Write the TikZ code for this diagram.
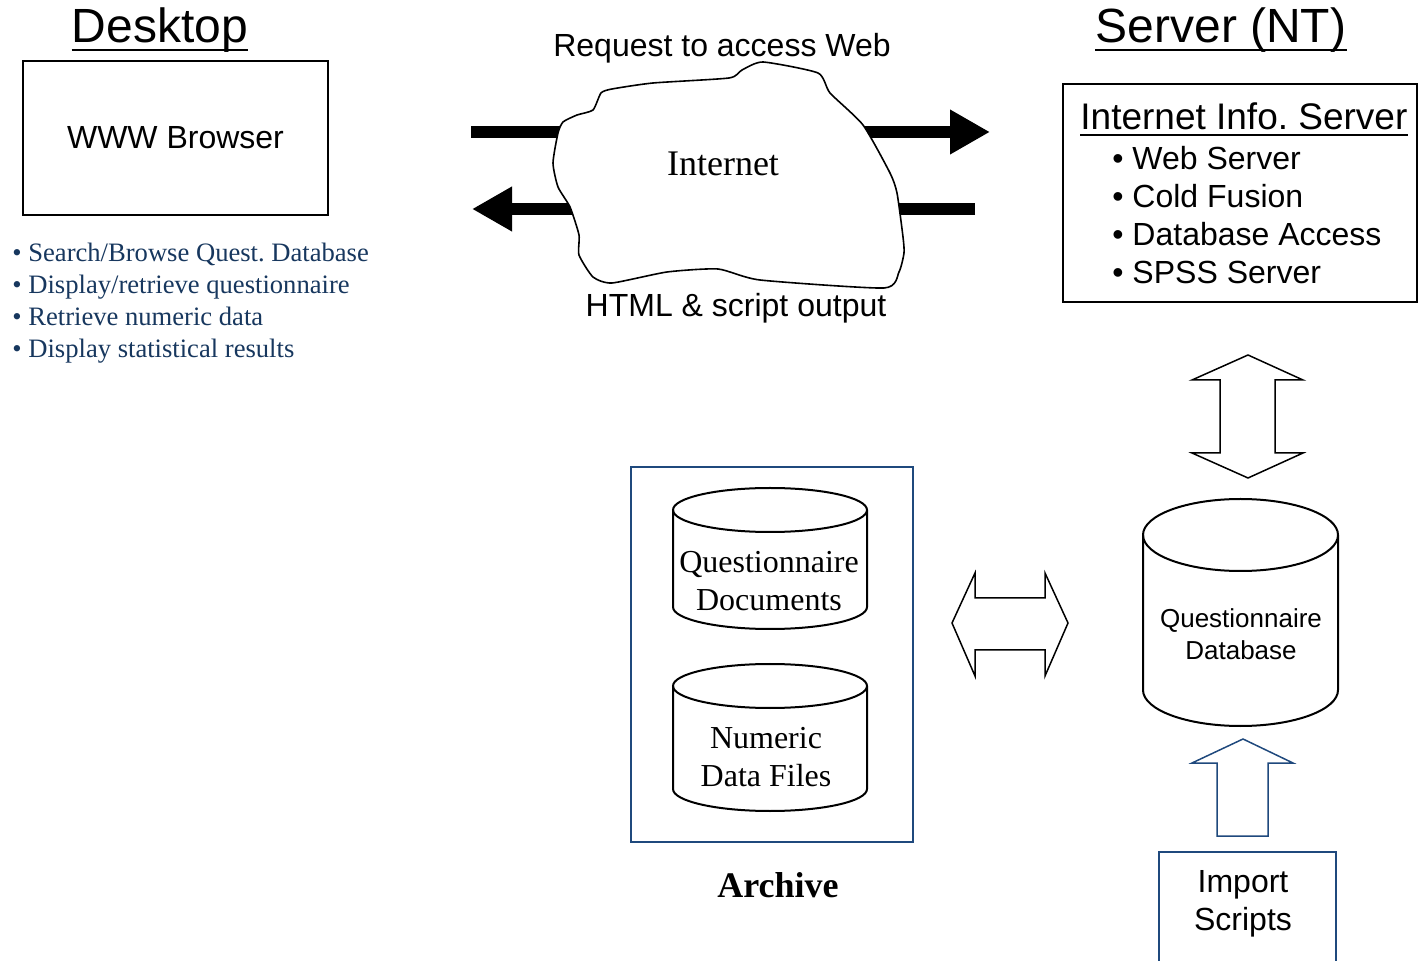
\documentclass[tikz,border=0pt]{standalone}
\usepackage{fontspec}
\setmainfont{Liberation Serif}
\setsansfont{Liberation Sans}
\usepackage{xcolor}
\usepackage{tikz}
\usetikzlibrary{arrows.meta}
\frenchspacing

\definecolor{navy}{RGB}{23,55,94}
\definecolor{boxblue}{RGB}{31,73,125}

% drum: centre x, top y, bottom y, x radius, y radius
\newcommand{\dbdrum}[5]{%
  \draw[line width=1pt, fill=white] (#1-#4,#2) -- (#1-#4,#3)
    arc[start angle=180, end angle=0, x radius=#4, y radius=#5] -- (#1+#4,#2);
  \draw[line width=1pt] (#1,#2) ellipse[x radius=#4, y radius=#5];
}

\begin{document}
\begin{tikzpicture}[
  x=0.5pt, y=-0.5pt,
  sans/.style={inner sep=0pt, anchor=base, align=center, font=\sffamily\fontsize{16}{19}\selectfont},
  serif/.style={inner sep=0pt, anchor=base, align=center, font=\rmfamily\fontsize{16}{19}\selectfont},
  title/.style={inner sep=0pt, anchor=base, font=\sffamily\fontsize{24}{28}\selectfont},
  blk/.style={draw, fill=white, line width=0.75pt},
  fat/.style={line width=6pt, -{Triangle[length=20pt,width=21pt]}},
]
\useasboundingbox (0,0) rectangle (1418,961);

%--- DESKTOP ---
\node[title] (desk) at (160,43) {Desktop};
\draw[line width=1.25pt] ([yshift=-3.5pt]desk.base west) -- ([yshift=-3.5pt]desk.base east);
\node[draw, line width=1.2pt, minimum width=152.5pt, minimum height=77pt, font=\sffamily\fontsize{16}{19}\selectfont]
  (browser) at (175.5,138) {WWW Browser};
% multi-line nodes: base = last line
\node[inner sep=0pt, anchor=base west, align=left, text=navy, font=\rmfamily\fontsize{13.3}{16}\selectfont]
  (tasks) at (12,358)
  {• Search/Browse Quest. Database\\• Display/retrieve questionnaire\\• Retrieve numeric data\\• Display statistical results};

%--- INTERNET ---
\coordinate (reqA) at (471,132);
\coordinate (reqB) at (990,132);
\coordinate (respA) at (975,209);
\coordinate (respB) at (472,209);
\draw[fat] (reqA) -- (reqB);
\draw[fat] (respA) -- (respB);
\draw[line width=0.8pt, fill=white] plot[smooth cycle, tension=0.35] coordinates {
  (763,62) (818,73) (830,93) (863,125) (890,173) (897,193) (903,237) (904,253)
  (899,272) (884,288) (760,280) (718,269) (667,272) (612,283) (593,277) (579,255)
  (579,235) (570,207) (558,187) (553,163) (558,133) (563,122) (577,115) (593,110)
  (601,93) (612,89) (653,83) (729,78) (742,70)};
\node[inner sep=0pt, anchor=base, font=\rmfamily\fontsize{18}{22}\selectfont] (inet) at (723,176) {Internet};
\node[sans] (req) at (722,57) {Request to access Web};
\node[sans] (resp) at (736,317) {HTML \& script output};

%--- SERVER ---
\node[title] (srv) at (1221,43) {Server (NT)};
\draw[line width=1.25pt] ([yshift=-3.5pt]srv.base west) -- ([yshift=-3.5pt]srv.base east);
\node[draw, line width=1pt, minimum width=177pt, minimum height=109pt] (srvbox) at (1240,193) {};
\node[inner sep=0pt, anchor=base west, font=\sffamily\fontsize{18.5}{22}\selectfont] (iis) at (1080,130) {Internet Info. Server};
\draw[line width=1pt] ([yshift=-2.5pt]iis.base west) -- ([yshift=-2.5pt]iis.base east);
\node[inner sep=0pt, anchor=base west, align=left, font=\sffamily\fontsize{16}{19}\selectfont]
  (svcs) at (1112,284) {• Web Server\\• Cold Fusion\\• Database Access\\• SPSS Server};

%--- DATABASE ---
\draw[blk] (1248,355) -- (1303,380) -- (1275,380) -- (1275,453) -- (1303,453) -- (1248,478)
  -- (1192,453) -- (1220,453) -- (1220,380) -- (1192,380) -- cycle;
\dbdrum{1240.5}{535}{690}{97.5}{36}
\node[inner sep=0pt, anchor=base, align=center, font=\sffamily\fontsize{13}{16}\selectfont]
  (qdb) at (1241,660) {Questionnaire\\Database};

%--- ARCHIVE ---
\node[draw=boxblue, line width=0.8pt, minimum width=141pt, minimum height=187.5pt] (archbox) at (772,654.5) {};
\dbdrum{770}{510}{607}{97}{22}
\dbdrum{770}{686}{789}{97}{22}
\node[serif] (qdocs) at (769,611) {Questionnaire\\Documents};
\node[serif] (numdata) at (766,786) {Numeric\\Data Files};
\node[inner sep=0pt, anchor=base, font=\rmfamily\bfseries\fontsize{18}{22}\selectfont] (arch) at (778,897) {Archive};
\draw[blk] (952,623) -- (975,573) -- (975,598) -- (1045,598) -- (1045,573) -- (1068,623)
  -- (1045,676) -- (1045,650) -- (975,650) -- (975,676) -- cycle;

%--- IMPORT ---
\draw[blk, draw=boxblue] (1243,739) -- (1293,763) -- (1268,763) -- (1268,836) -- (1217,836)
  -- (1217,763) -- (1192,763) -- cycle;
\draw[boxblue, line width=1pt] (1159,961) |- (1336,852) -- (1336,961);
\node[sans] (imp) at (1243,930) {Import\\Scripts};
\end{tikzpicture}
\end{document}
